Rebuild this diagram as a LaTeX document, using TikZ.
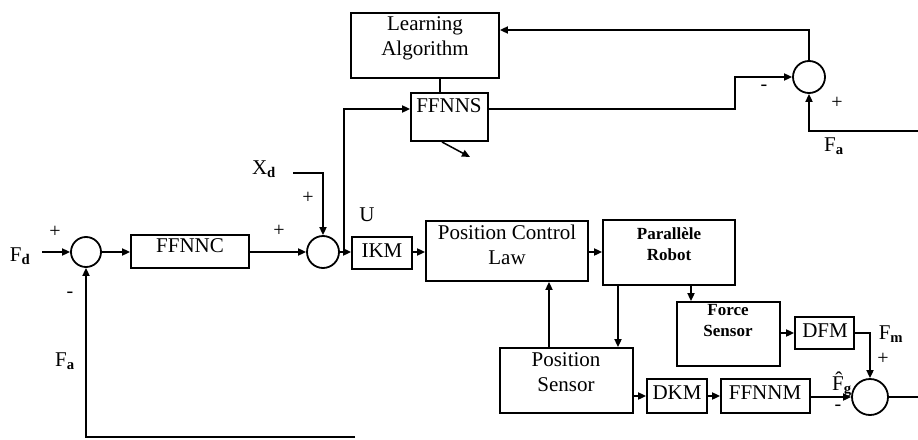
\documentclass[tikz,border=0pt]{standalone}
\usepackage{fontspec}
\setmainfont{Liberation Serif}
\usetikzlibrary{arrows.meta,fit,calc}
\begin{document}
\begin{tikzpicture}[x=1pt,y=-1pt,
  line width=1.8pt,
  box/.style={draw,rectangle,inner sep=0pt,line width=1.8pt},
  sumc/.style={draw,circle,inner sep=0pt,line width=1.8pt},
  txt/.style={font=\fontsize{21}{25}\selectfont,align=center,inner sep=0pt},
  btxt/.style={font=\fontsize{17}{21}\selectfont\bfseries,align=center,inner sep=0pt},
  sgn/.style={font=\fontsize{20}{22}\selectfont,inner sep=0pt},
  arr/.style={-{Triangle[length=8pt,width=7pt]}}]
\useasboundingbox (0,0) rectangle (918,439);
% boxes
\node[box,fit={(351,13) (499,78)}] (la) {};
\node[txt] (latx) at (425,38) {Learning\\Algorithm};
\node[box,fit={(411,93) (488,141)}] (ffnns) {};
\node[txt] (ffnnstx) at (449,106) {FFNNS};
\node[box,fit={(131,235) (249,268)}] (ffnnc) {};
\node[txt] (ffnnctx) at (190,246) {FFNNC};
\node[box,fit={(352,237) (412,269)}] (ikm) {};
\node[txt] (ikmtx) at (382,251) {IKM};
\node[box,fit={(426,221) (588,281)}] (pcl) {};
\node[txt] (pcltx) at (507,245) {Position Control\\Law};
\node[box,fit={(603,220) (735,285)}] (robot) {};
\node[btxt] (robottx) at (669,244) {Parallèle\\Robot};
\node[box,fit={(677,302) (780,366)}] (fs) {};
\node[btxt] (fstx) at (728,321) {Force\\Sensor};
\node[box,fit={(795,317) (854,349)}] (dfm) {};
\node[txt] (dfmtx) at (825,331) {DFM};
\node[box,fit={(500,348) (633,413)}] (ps) {};
\node[txt] (pstx) at (566,372) {Position\\Sensor};
\node[box,fit={(647,379) (707,413)}] (dkm) {};
\node[txt] (dkmtx) at (677,393) {DKM};
\node[box,fit={(721,379) (810,413)}] (ffnnm) {};
\node[txt] (ffnnmtx) at (765,393) {FFNNM};
% summing junctions
\node[sumc,minimum size=30pt] (c1) at (86,252) {};
\node[sumc,minimum size=32pt] (c2) at (323,252) {};
\node[sumc,minimum size=32pt] (c3) at (809,77) {};
\node[sumc,minimum size=36pt] (c4) at (870,397) {};
% coordinates
\coordinate (fdin) at (42,252);
\coordinate (xdin) at (293,173);
\coordinate (jU) at (344,252);
\coordinate (faR) at (918,131);
\coordinate (outR) at (918,397);
\coordinate (botR) at (355,437);
\coordinate (dgA) at (442,142);
\coordinate (dgB) at (470,157);
% connectors
\draw[arr] (fdin) -- (c1.west);
\draw[arr] (c1.east) -- (ffnnc.west |- c1.east);
\draw[arr] (ffnnc.east |- c2.west) -- (c2.west);
\draw[arr] (c2.east) -- (ikm.west |- c2.east);
\draw[arr] (jU) |- (ffnns.west |- 0,109);
\draw[arr] (xdin) -| (c2.north);
\draw[arr] (ikm.east |- 0,252) -- (pcl.west |- 0,252);
\draw[arr] (pcl.east |- 0,252) -- (robot.west |- 0,252);
\draw[arr] (robot.south -| 691,0) -- (fs.north -| 691,0);
\draw[arr] (robot.south -| 618,0) -- (ps.north -| 618,0);
\draw[arr] (ps.north -| 549,0) -- (pcl.south -| 549,0);
\draw[arr] (fs.east |- 0,333) -- (dfm.west |- 0,333);
\draw[arr] (dfm.east |- 0,333) -| (c4.north);
\draw[arr] (ps.east |- 0,396) -- (dkm.west |- 0,396);
\draw[arr] (dkm.east |- 0,396) -- (ffnnm.west |- 0,396);
\draw[arr] (ffnnm.east |- c4.west) -- (c4.west);
\draw (c4.east) -- (outR);
\draw[arr] (ffnns.east |- 0,109) -- (735,109) |- (c3.west);
\draw[arr] (c3.north) |- (la.east |- 0,30);
\draw[arr] (faR) -| (c3.south);
\draw[arr] (botR) -| (c1.south);
\draw (la.south -| 440,0) -- (ffnns.north -| 440,0);
\draw[arr,line width=1.5pt] (dgA) -- (dgB);
% labels
\node[txt] (lfd) at (20,256) {F\textsubscript{\bfseries d}};
\node[sgn] (p1) at (55,232) {+};
\node[sgn] (m1) at (70,295) {-};
\node[txt] (lfa1) at (65,361) {F\textsubscript{\bfseries a}};
\node[sgn] (p2) at (279,231) {+};
\node[txt] (lxd) at (264,169) {X\textsubscript{\bfseries d}};
\node[sgn] (p3) at (308,198) {+};
\node[txt] (lu) at (367,215) {U};
\node[sgn] (m2) at (764,88) {-};
\node[sgn] (p4) at (837,103) {+};
\node[txt] (lfa2) at (834,146) {F\textsubscript{\bfseries a}};
\node[txt] (lfm) at (891,334) {F\textsubscript{\bfseries m}};
\node[sgn] (p5) at (883,359) {+};
\node[txt] (lfg) at (842,384) {\^{F}\textsubscript{\bfseries g}};
\node[sgn] (m3) at (838,408) {-};
\end{tikzpicture}
\end{document}
